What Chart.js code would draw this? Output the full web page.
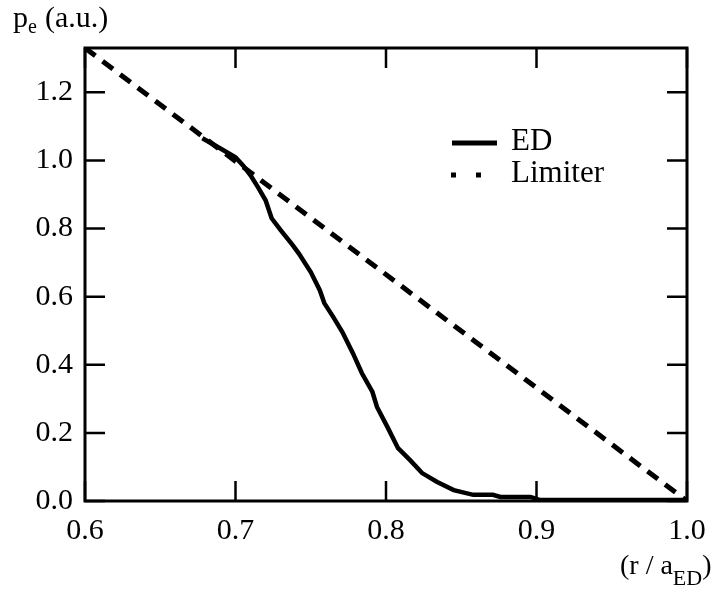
<!DOCTYPE html>
<html>
<head>
<meta charset="utf-8">
<script src="https://cdn.jsdelivr.net/npm/chart.js@4.4.0/dist/chart.umd.min.js"></script>
<style>
  html, body { margin: 0; padding: 0; background: #fff; }
  #wrap { width: 718px; height: 592px; position: relative; }
</style>
</head>
<body>
<div id="wrap"><canvas id="peChart"></canvas></div>
<script>
// ED profile
const edR  = [0.678, 0.690, 0.700, 0.705, 0.710, 0.715, 0.720, 0.724, 0.730, 0.738, 0.742, 0.750, 0.756, 0.759, 0.765, 0.771, 0.778, 0.784, 0.791, 0.794, 0.801, 0.808, 0.816, 0.824, 0.834, 0.845, 0.858, 0.871, 0.876, 0.896, 0.902, 1.000];
const edPe = [1.065, 1.035, 1.009, 0.985, 0.956, 0.921, 0.883, 0.830, 0.795, 0.751, 0.727, 0.672, 0.619, 0.581, 0.540, 0.496, 0.434, 0.375, 0.320, 0.276, 0.217, 0.155, 0.120, 0.082, 0.056, 0.032, 0.018, 0.018, 0.012, 0.012, 0.003, 0.003];

// Limiter profile (straight line)
const limiterR  = [0.6, 1.0];
const limiterPe = [1.33, 0.0];

const xTicks = [0.6, 0.7, 0.8, 0.9, 1.0];
const yTicks = [0.0, 0.2, 0.4, 0.6, 0.8, 1.0, 1.2];

const FONT = "'Liberation Serif', 'Times New Roman', serif";

function toPoints(xs, ys) {
    return xs.map((x, i) => ({ x: x, y: ys[i] }));
}

// frame, inward ticks, axis titles and legend
const decorPlugin = {
    id: 'decor',
    afterDraw(chart) {
        const ctx = chart.ctx;
        const a = chart.chartArea;
        const xs = chart.scales.x, ys = chart.scales.y;
        ctx.save();
        ctx.strokeStyle = '#000';
        ctx.lineCap = 'butt';
        ctx.lineWidth = 3;
        ctx.strokeRect(a.left, a.top, a.right - a.left, a.bottom - a.top);

        const tl = 20;
        ctx.lineWidth = 2.5;
        ctx.beginPath();
        xTicks.forEach(v => {
            const px = xs.getPixelForValue(v);
            ctx.moveTo(px, a.bottom); ctx.lineTo(px, a.bottom - tl);
            ctx.moveTo(px, a.top); ctx.lineTo(px, a.top + tl);
        });
        yTicks.forEach(v => {
            const py = ys.getPixelForValue(v);
            ctx.moveTo(a.left, py); ctx.lineTo(a.left + tl, py);
            ctx.moveTo(a.right, py); ctx.lineTo(a.right - tl, py);
        });
        ctx.stroke();

        ctx.fillStyle = '#000';
        ctx.textBaseline = 'alphabetic';
        ctx.textAlign = 'left';

        // y title: p_e (a.u.)
        ctx.font = '30px ' + FONT;
        ctx.fillText('p', 13, 27);
        ctx.font = '20px ' + FONT;
        ctx.fillText('e', 28, 33);
        ctx.font = '30px ' + FONT;
        ctx.fillText('(a.u.)', 45, 27);

        // x title: (r / a_ED)
        ctx.font = '28px ' + FONT;
        ctx.fillText('(r / a', 620, 574);
        let w = ctx.measureText('(r / a').width;
        ctx.font = '22px ' + FONT;
        ctx.fillText('ED', 620 + w, 585);
        let w2 = ctx.measureText('ED').width;
        ctx.font = '28px ' + FONT;
        ctx.fillText(')', 620 + w + w2, 574);

        // legend
        const ds = chart.data.datasets;
        ctx.font = '31px ' + FONT;
        ctx.textBaseline = 'middle';
        ctx.lineWidth = 5;
        ctx.beginPath();
        ctx.moveTo(452, 143); ctx.lineTo(497, 143);
        ctx.stroke();
        ctx.fillText(ds[0].label, 511, 142);

        ctx.setLineDash([5, 20]);
        ctx.beginPath();
        ctx.moveTo(451, 175); ctx.lineTo(485, 175);
        ctx.stroke();
        ctx.setLineDash([]);
        ctx.fillText(ds[1].label, 511, 174);
        ctx.restore();
    }
};

const ctx = document.getElementById('peChart').getContext('2d');
new Chart(ctx, {
    type: 'line',
    data: {
        datasets: [{
            label: 'ED',
            data: toPoints(edR, edPe),
            borderColor: '#000',
            borderWidth: 4.5,
            pointRadius: 0,
            tension: 0,
            fill: false
        }, {
            label: 'Limiter',
            data: toPoints(limiterR, limiterPe),
            borderColor: '#000',
            borderWidth: 5,
            borderDash: [13, 9],
            pointRadius: 0,
            tension: 0,
            fill: false
        }]
    },
    options: {
        responsive: true,
        maintainAspectRatio: false,
        animation: false,
        layout: { padding: { top: 48, right: 31, left: 0, bottom: 0 } },
        plugins: {
            legend: { display: false },
            tooltip: { enabled: false }
        },
        scales: {
            x: {
                type: 'linear',
                min: 0.6,
                max: 1.0,
                afterFit: function(scale) { scale.height = 91; },
                afterBuildTicks: function(scale) { scale.ticks = xTicks.map(v => ({ value: v })); },
                grid: { display: false, drawTicks: false },
                border: { display: false },
                ticks: {
                    padding: 12,
                    color: '#000',
                    font: { family: FONT, size: 30 },
                    maxRotation: 0,
                    callback: v => v.toFixed(1)
                }
            },
            y: {
                type: 'linear',
                min: 0,
                max: 1.33,
                afterFit: function(scale) { scale.width = 85; },
                afterBuildTicks: function(scale) { scale.ticks = yTicks.map(v => ({ value: v })); },
                grid: { display: false, drawTicks: false },
                border: { display: false },
                ticks: {
                    padding: 12,
                    color: '#000',
                    font: { family: FONT, size: 30 },
                    callback: v => v.toFixed(1)
                }
            }
        }
    },
    plugins: [decorPlugin]
});
</script>
</body>
</html>
